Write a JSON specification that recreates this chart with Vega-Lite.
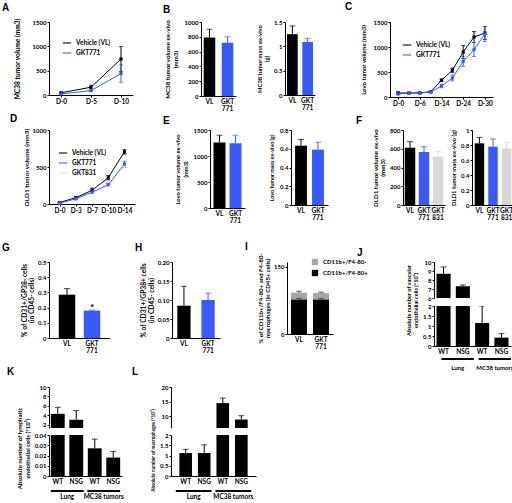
{
"$schema":"https://vega.github.io/schema/vega-lite/v6.json",
"background":"white",
"padding":{"left":2,"top":2,"right":2,"bottom":0},
"resolve":{"scale":{"color":"independent"}},
"spacing":18,
"vconcat":[
 {"resolve":{"scale":{"color":"independent"}},"spacing":1,"vconcat":[
  {"resolve":{"scale":{"color":"independent"}},"spacing":30,"hconcat":[
   {"width":84,"height":73,
    "title":{"text":"A","dx":-47,"offset":5.3},
    "data":{"values":[
     {"day":"D-0","grp":"Vehicle (VL)","v":45,"e":12},
     {"day":"D-5","grp":"Vehicle (VL)","v":160,"e":40},
     {"day":"D-10","grp":"Vehicle (VL)","v":740,"e":255},
     {"day":"D-0","grp":"GKT771","v":20,"e":6},
     {"day":"D-5","grp":"GKT771","v":90,"e":20},
     {"day":"D-10","grp":"GKT771","v":440,"e":180}]},
    "encoding":{
     "x":{"field":"day","type":"ordinal","scale":{"type":"point","domain":["D-0","D-5","D-10"],"padding":0.4},"axis":{"title":null}},
     "y":{"field":"v","type":"quantitative","scale":{"domain":[0,1500]},"axis":{"values":[0,500,1000,1500],"format":"d","title":"MC38 tumor volume (mm3)","titleFontSize":6.6,"titlePadding":12}},
     "color":{"field":"grp","type":"nominal","scale":{"domain":["Vehicle (VL)","GKT771"],"range":["#000000","#3a5af5"]},"legend":{"title":null,"orient":"none","legendX":13,"legendY":16,"symbolType":"stroke","symbolSize":70,"symbolStrokeWidth":1.5,"rowPadding":1,"padding":0,"labelOffset":4}}},
    "layer":[
     {"mark":{"type":"errorbar","ticks":true,"size":4,"thickness":1},"encoding":{"yError":{"field":"e"}}},
     {"mark":{"type":"line","strokeWidth":1}},
     {"mark":{"type":"point","shape":"square","filled":true,"size":10,"opacity":1}}]},
   {"resolve":{"scale":{"color":"independent"}},"bounds":"flush","spacing":49,"hconcat":[
    {"width":35,"height":74,
     "title":{"text":"B","dx":-38,"offset":3.8},
     "data":{"values":[{"c":"VL","v":790,"hi":902},{"c":"GKT 771","v":720,"hi":800}]},
     "encoding":{
      "x":{"field":"c","type":"nominal","scale":{"domain":["VL","GKT 771"],"paddingInner":0.36,"paddingOuter":0.15},"axis":{"title":null,"labelExpr":"split(datum.value, ' ')","labelLineHeight":7}},
      "y":{"field":"v","type":"quantitative","scale":{"domain":[0,1000]},"axis":{"values":[0,200,400,600,800,1000],"format":"d","title":["MC38 tumor volume ex-vivo","(mm3)"],"titleFontSize":6.2,"titlePadding":6}},
      "color":{"field":"c","type":"nominal","scale":{"domain":["VL","GKT 771","GKT 831"],"range":["#000000","#3a5af5","#d9d9d9"]},"legend":null}},
     "layer":[
      {"mark":"rule","encoding":{"y2":{"field":"hi"}}},
      {"mark":"bar"},
      {"mark":{"type":"tick","thickness":1,"size":6},"encoding":{"y":{"field":"hi","type":"quantitative"}}}]},
    {"width":30,"height":73,
     "data":{"values":[{"c":"VL","v":1.25,"hi":1.42},{"c":"GKT 771","v":1.09,"hi":1.165}]},
     "encoding":{
      "x":{"field":"c","type":"nominal","scale":{"domain":["VL","GKT 771"],"paddingInner":0.3,"paddingOuter":0.13},"axis":{"title":null,"labelExpr":"split(datum.value, ' ')","labelLineHeight":7}},
      "y":{"field":"v","type":"quantitative","scale":{"domain":[0,1.5]},"axis":{"values":[0,0.5,1,1.5],"format":"~g","title":["MC38 tumor mass ex-vivo","(g)"],"titleFontSize":5.8,"titlePadding":4}},
      "color":{"field":"c","type":"nominal","scale":{"domain":["VL","GKT 771","GKT 831"],"range":["#000000","#3a5af5","#d9d9d9"]},"legend":null}},
     "layer":[
      {"mark":"rule","encoding":{"y2":{"field":"hi"}}},
      {"mark":"bar"},
      {"mark":{"type":"tick","thickness":1,"size":6},"encoding":{"y":{"field":"hi","type":"quantitative"}}}]}]},
   {"width":103,"height":75,
    "title":{"text":"C","dx":-45,"offset":6.8},
    "data":{"values":[
     {"day":"D-0","grp":"Vehicle (VL)","v":80,"e":20},
     {"day":"D-3","grp":"Vehicle (VL)","v":80,"e":10},
     {"day":"D-6","grp":"Vehicle (VL)","v":82,"e":10},
     {"day":"D-10","grp":"Vehicle (VL)","v":105,"e":15},
     {"day":"D-14","grp":"Vehicle (VL)","v":335,"e":25},
     {"day":"D-20","grp":"Vehicle (VL)","v":535,"e":45},
     {"day":"D-24","grp":"Vehicle (VL)","v":900,"e":130},
     {"day":"D-27","grp":"Vehicle (VL)","v":1200,"e":110},
     {"day":"D-30","grp":"Vehicle (VL)","v":1280,"e":130},
     {"day":"D-0","grp":"GKT771","v":60,"e":15},
     {"day":"D-3","grp":"GKT771","v":80,"e":10},
     {"day":"D-6","grp":"GKT771","v":80,"e":10},
     {"day":"D-10","grp":"GKT771","v":100,"e":15},
     {"day":"D-14","grp":"GKT771","v":220,"e":35},
     {"day":"D-20","grp":"GKT771","v":380,"e":60},
     {"day":"D-24","grp":"GKT771","v":710,"e":100},
     {"day":"D-27","grp":"GKT771","v":950,"e":140},
     {"day":"D-30","grp":"GKT771","v":1260,"e":150}]},
    "encoding":{
     "x":{"field":"day","type":"ordinal","scale":{"type":"point","domain":["D-0","D-3","D-6","D-10","D-14","D-20","D-24","D-27","D-30"],"padding":0.75},"axis":{"title":null,"values":["D-0","D-6","D-14","D-24","D-30"]}},
     "y":{"field":"v","type":"quantitative","scale":{"domain":[0,1500]},"axis":{"values":[0,500,1000,1500],"format":"d","title":"Lovo tumor volume (mm3)","titleFontSize":6,"titlePadding":7}},
     "color":{"field":"grp","type":"nominal","scale":{"domain":["Vehicle (VL)","GKT771"],"range":["#000000","#3a5af5"]},"legend":{"title":null,"orient":"none","legendX":12,"legendY":18,"symbolType":"stroke","symbolSize":70,"symbolStrokeWidth":1.5,"rowPadding":1,"padding":0,"labelOffset":4}}},
    "layer":[
     {"mark":{"type":"errorbar","ticks":true,"size":4,"thickness":1},"encoding":{"yError":{"field":"e"}}},
     {"mark":{"type":"line","strokeWidth":1}},
     {"mark":{"type":"point","shape":"square","filled":true,"size":10,"opacity":1}}]}]},
  {"resolve":{"scale":{"color":"independent"}},"spacing":28,"hconcat":[
   {"width":86,"height":74,
    "title":{"text":"D","dx":-39,"offset":3.3},
    "data":{"values":[
     {"day":"D-0","grp":"GKT831","v":12,"e":4},
     {"day":"D-3","grp":"GKT831","v":66,"e":6},
     {"day":"D-7","grp":"GKT831","v":150,"e":12},
     {"day":"D-10","grp":"GKT831","v":250,"e":15},
     {"day":"D-14","grp":"GKT831","v":520,"e":35},
     {"day":"D-0","grp":"Vehicle (VL)","v":20,"e":5},
     {"day":"D-3","grp":"Vehicle (VL)","v":85,"e":8},
     {"day":"D-7","grp":"Vehicle (VL)","v":185,"e":30},
     {"day":"D-10","grp":"Vehicle (VL)","v":355,"e":30},
     {"day":"D-14","grp":"Vehicle (VL)","v":705,"e":30},
     {"day":"D-0","grp":"GKT771","v":13,"e":4},
     {"day":"D-3","grp":"GKT771","v":70,"e":6},
     {"day":"D-7","grp":"GKT771","v":160,"e":15},
     {"day":"D-10","grp":"GKT771","v":262,"e":15},
     {"day":"D-14","grp":"GKT771","v":538,"e":40}]},
    "encoding":{
     "x":{"field":"day","type":"ordinal","scale":{"type":"point","domain":["D-0","D-3","D-7","D-10","D-14"],"padding":0.65},"axis":{"title":null}},
     "y":{"field":"v","type":"quantitative","scale":{"domain":[0,1000]},"axis":{"values":[0,500,1000],"format":"d","title":"DLD1 tumor volume (mm3)","titleFontSize":6.4,"titlePadding":3}},
     "color":{"field":"grp","type":"nominal","scale":{"domain":["Vehicle (VL)","GKT771","GKT831"],"range":["#000000","#3a5af5","#e3e3e3"]},"legend":{"title":null,"orient":"none","legendX":9,"legendY":18,"symbolType":"stroke","symbolSize":70,"symbolStrokeWidth":1.5,"rowPadding":1,"padding":0,"labelOffset":4}}},
    "layer":[
     {"mark":{"type":"errorbar","ticks":true,"size":4,"thickness":1},"encoding":{"yError":{"field":"e"}}},
     {"mark":{"type":"line","strokeWidth":1}},
     {"mark":{"type":"point","shape":"square","filled":true,"size":10,"opacity":1}}]},
   {"resolve":{"scale":{"color":"independent"}},"bounds":"flush","spacing":46,"hconcat":[
    {"width":35,"height":78,
     "title":{"text":"E","dx":-47,"offset":1.3},
     "data":{"values":[{"c":"VL","v":1262,"hi":1400},{"c":"GKT 771","v":1243,"hi":1400}]},
     "encoding":{
      "x":{"field":"c","type":"nominal","scale":{"domain":["VL","GKT 771"],"paddingInner":0.25,"paddingOuter":0.22},"axis":{"title":null,"labelExpr":"split(datum.value, ' ')","labelLineHeight":7}},
      "y":{"field":"v","type":"quantitative","scale":{"domain":[0,1500]},"axis":{"values":[0,500,1000,1500],"format":"d","title":["Lovo tumor volume  ex-vivo","(mm3)"],"titleFontSize":5.8,"titlePadding":5}},
      "color":{"field":"c","type":"nominal","scale":{"domain":["VL","GKT 771","GKT 831"],"range":["#000000","#3a5af5","#d9d9d9"]},"legend":null}},
     "layer":[
      {"mark":"rule","encoding":{"y2":{"field":"hi"}}},
      {"mark":"bar"},
      {"mark":{"type":"tick","thickness":1,"size":6},"encoding":{"y":{"field":"hi","type":"quantitative"}}}]},
    {"width":37,"height":75,
     "data":{"values":[{"c":"VL","v":0.633,"hi":0.7},{"c":"GKT 771","v":0.59,"hi":0.669}]},
     "encoding":{
      "x":{"field":"c","type":"nominal","scale":{"domain":["VL","GKT 771"],"paddingInner":0.3,"paddingOuter":0.24},"axis":{"title":null,"labelExpr":"split(datum.value, ' ')","labelLineHeight":7}},
      "y":{"field":"v","type":"quantitative","scale":{"domain":[0,0.8]},"axis":{"values":[0,0.2,0.4,0.6,0.8],"format":"~g","title":"Lovo tumor mass ex-vivo (g)","titleFontSize":5.4,"titlePadding":5}},
      "color":{"field":"c","type":"nominal","scale":{"domain":["VL","GKT 771","GKT 831"],"range":["#000000","#3a5af5","#d9d9d9"]},"legend":null}},
     "layer":[
      {"mark":"rule","encoding":{"y2":{"field":"hi"}}},
      {"mark":"bar"},
      {"mark":{"type":"tick","thickness":1,"size":6},"encoding":{"y":{"field":"hi","type":"quantitative"}}}]}]},
   {"resolve":{"scale":{"color":"independent"}},"bounds":"flush","spacing":27,"hconcat":[
    {"width":42,"height":75,
     "title":{"text":"F","dx":-47,"offset":1.3},
     "data":{"values":[{"c":"VL","v":611,"hi":675},{"c":"GKT 771","v":565,"hi":622},{"c":"GKT 831","v":516,"hi":569}]},
     "encoding":{
      "x":{"field":"c","type":"nominal","scale":{"domain":["VL","GKT 771","GKT 831"],"paddingInner":0.25,"paddingOuter":0.125},"axis":{"title":null,"labelExpr":"split(datum.value, ' ')","labelLineHeight":7}},
      "y":{"field":"v","type":"quantitative","scale":{"domain":[0,800]},"axis":{"values":[0,200,400,600,800],"format":"d","title":["DLD1 tumor volume ex-vivo","(mm3)"],"titleFontSize":6.2,"titlePadding":4}},
      "color":{"field":"c","type":"nominal","scale":{"domain":["VL","GKT 771","GKT 831"],"range":["#000000","#3a5af5","#d9d9d9"]},"legend":null}},
     "layer":[
      {"mark":"rule","encoding":{"y2":{"field":"hi"}}},
      {"mark":"bar"},
      {"mark":{"type":"tick","thickness":1,"size":6},"encoding":{"y":{"field":"hi","type":"quantitative"}}}]},
    {"width":42,"height":75,
     "data":{"values":[{"c":"VL","v":0.822,"hi":0.902},{"c":"GKT 771","v":0.778,"hi":0.88},{"c":"GKT 831","v":0.756,"hi":0.836}]},
     "encoding":{
      "x":{"field":"c","type":"nominal","scale":{"domain":["VL","GKT 771","GKT 831"],"paddingInner":0.3,"paddingOuter":0.2},"axis":{"title":null,"labelExpr":"split(datum.value, ' ')","labelLineHeight":7}},
      "y":{"field":"v","type":"quantitative","scale":{"domain":[0,1]},"axis":{"values":[0,0.2,0.4,0.6,0.8,1],"format":"~g","title":"DLD1 tumor mass ex-vivo (g)","titleFontSize":5.9,"titlePadding":4}},
      "color":{"field":"c","type":"nominal","scale":{"domain":["VL","GKT 771","GKT 831"],"range":["#000000","#3a5af5","#d9d9d9"]},"legend":null}},
     "layer":[
      {"mark":"rule","encoding":{"y2":{"field":"hi"}}},
      {"mark":"bar"},
      {"mark":{"type":"tick","thickness":1,"size":6},"encoding":{"y":{"field":"hi","type":"quantitative"}}}]}]}]}]},
 {"resolve":{"scale":{"color":"independent"}},"spacing":-3,"vconcat":[
  {"resolve":{"scale":{"color":"independent"}},"spacing":-11,"hconcat":[
   {"resolve":{"scale":{"color":"independent"}},"spacing":25,"hconcat":[
    {"width":61,"height":76,
     "title":{"text":"G","dx":-47,"offset":6.3},
     "data":{"values":[{"c":"VL","v":0.285,"hi":0.325,"sig":""},{"c":"GKT 771","v":0.18,"hi":0.184,"sig":"*"}]},
     "encoding":{
      "x":{"field":"c","type":"nominal","scale":{"domain":["VL","GKT 771"],"paddingInner":0.34,"paddingOuter":0.39},"axis":{"title":null,"labelExpr":"split(datum.value, ' ')","labelLineHeight":7}},
      "y":{"field":"v","type":"quantitative","scale":{"domain":[0,0.5]},"axis":{"values":[0,0.1,0.2,0.3,0.4,0.5],"format":"~g","title":["% of CD31+/GP38- cells","(in CD45- cells)"],"titleFontSize":6.7,"titlePadding":3}},
      "color":{"field":"c","type":"nominal","scale":{"domain":["VL","GKT 771","GKT 831"],"range":["#000000","#3a5af5","#d9d9d9"]},"legend":null}},
     "layer":[
      {"mark":"rule","encoding":{"y2":{"field":"hi"}}},
      {"mark":"bar"},
      {"mark":{"type":"tick","thickness":1,"size":6},"encoding":{"y":{"field":"hi","type":"quantitative"}}},
      {"mark":{"type":"text","fontSize":10,"fontWeight":"bold","baseline":"middle","dy":-2,"color":"#000"},"encoding":{"y":{"field":"hi","type":"quantitative"},"text":{"field":"sig"},"color":{"value":"#000"}}}]},
    {"width":48,"height":76,
     "title":{"text":"H","dx":-37,"offset":6.3},
     "data":{"values":[{"c":"VL","v":0.085,"hi":0.136},{"c":"GKT 771","v":0.1,"hi":0.118}]},
     "encoding":{
      "x":{"field":"c","type":"nominal","scale":{"domain":["VL","GKT 771"],"paddingInner":0.45,"paddingOuter":0.22},"axis":{"title":null,"labelExpr":"split(datum.value, ' ')","labelLineHeight":7}},
      "y":{"field":"v","type":"quantitative","scale":{"domain":[0,0.2]},"axis":{"values":[0,0.05,0.1,0.15,0.2],"labelExpr":"datum.value == 0 ? '0' : format(datum.value, '.2f')","title":["% of CD31+/GP38+ cells","(in CD45- cells)"],"titleFontSize":6.7,"titlePadding":3}},
      "color":{"field":"c","type":"nominal","scale":{"domain":["VL","GKT 771","GKT 831"],"range":["#000000","#3a5af5","#d9d9d9"]},"legend":null}},
     "layer":[
      {"mark":"rule","encoding":{"y2":{"field":"hi"}}},
      {"mark":"bar"},
      {"mark":{"type":"tick","thickness":1,"size":6},"encoding":{"y":{"field":"hi","type":"quantitative"}}}]},
    {"width":46,"height":72,
     "title":{"text":"I","dx":-42,"offset":0.5},
     "encoding":{
      "x":{"field":"c","type":"nominal","scale":{"domain":["VL","GKT 771"],"paddingInner":0.27,"paddingOuter":0.18},"axis":{"title":null,"labelExpr":"split(datum.value, ' ')","labelLineHeight":7}}},
     "layer":[
      {"data":{"values":[
        {"c":"VL","pop":"CD11b+/F4-80+","v":77},
        {"c":"VL","pop":"CD11b+/F4-80-","v":15},
        {"c":"GKT 771","pop":"CD11b+/F4-80+","v":77},
        {"c":"GKT 771","pop":"CD11b+/F4-80-","v":14}]},
       "mark":"bar",
       "encoding":{
        "y":{"field":"v","type":"quantitative","stack":"zero","scale":{"domain":[0,150]},"axis":{"values":[0,50,100,150],"format":"d","title":["% of CD11b+/F4-80+ and F4-80-","macrophages (in CD45+ cells)"],"titleFontSize":6.1,"titlePadding":3}},
        "color":{"field":"pop","type":"nominal","scale":{"domain":["CD11b+/F4-80-","CD11b+/F4-80+"],"range":["#a6a6a6","#000000"]},"legend":{"title":null,"orient":"none","legendX":24,"legendY":-4,"symbolType":"square","symbolSize":40,"rowPadding":3,"padding":0,"labelFontSize":6}},
        "order":{"field":"pop","sort":"ascending"}}},
      {"data":{"values":[{"c":"VL","lo":92,"hi":95},{"c":"GKT 771","lo":91,"hi":93},{"c":"VL","lo":77,"hi":79},{"c":"GKT 771","lo":77,"hi":78.5}]},
       "mark":{"type":"rule","color":"#333333"},"encoding":{"y":{"field":"lo","type":"quantitative"},"y2":{"field":"hi"}}},
      {"data":{"values":[{"c":"VL","lo":92,"hi":95},{"c":"GKT 771","lo":91,"hi":93},{"c":"VL","lo":77,"hi":79},{"c":"GKT 771","lo":77,"hi":78.5}]},
       "mark":{"type":"tick","color":"#333333","thickness":1,"size":6},"encoding":{"y":{"field":"hi","type":"quantitative"}}}]}]},
   {"bounds":"flush","spacing":8,"vconcat":[
    {"width":77,"height":36,
     "title":{"text":"J","dx":-77,"offset":1},
     "data":{"values":[{"c":"WT|Lung","v":8.7,"hi":9.45},{"c":"NSG|Lung","v":7.3,"hi":7.45},{"c":"WT|MC38 tumors","v":1.15,"hi":2.0},{"c":"NSG|MC38 tumors","v":0.42,"hi":0.62}]},
     "encoding":{
      "x":{"field":"c","type":"nominal","scale":{"domain":["WT|Lung","NSG|Lung","WT|MC38 tumors","NSG|MC38 tumors"],"paddingInner":0.27,"paddingOuter":0.13},"axis":null},
      "y":{"field":"v","type":"quantitative","scale":{"domain":[6,10]},"axis":{"values":[6,7,8,9,10],"title":null}}},
     "layer":[
      {"mark":{"type":"rule","clip":true,"color":"#000000"},"encoding":{"y2":{"field":"hi"}}},
      {"mark":{"type":"bar","clip":true,"color":"#000000"}},
      {"mark":{"type":"tick","clip":true,"color":"#000000","thickness":1,"size":6},"encoding":{"y":{"field":"hi","type":"quantitative"}}}]},
    {"width":77,"height":40,
     "data":{"values":[{"c":"WT|Lung","v":8.7,"hi":9.45},{"c":"NSG|Lung","v":7.3,"hi":7.45},{"c":"WT|MC38 tumors","v":1.15,"hi":2.0},{"c":"NSG|MC38 tumors","v":0.42,"hi":0.62}]},
     "encoding":{
      "x":{"field":"c","type":"nominal","scale":{"domain":["WT|Lung","NSG|Lung","WT|MC38 tumors","NSG|MC38 tumors"],"paddingInner":0.27,"paddingOuter":0.13},"axis":{"title":null,"labelExpr":"split(datum.value, '|')[0]"}},
      "y":{"field":"v","type":"quantitative","scale":{"domain":[0,2]},"axis":{"values":[0,0.5,1,1.5,2],"format":"~g","title":["Absolute number of vascular","endothelial cells (*10⁵)"],"titleFontSize":5.6,"titlePadding":4,"titleY":-6}}},
     "layer":[
      {"mark":{"type":"rule","clip":true,"color":"#000000"},"encoding":{"y2":{"field":"hi"}}},
      {"mark":{"type":"bar","clip":true,"color":"#000000"}},
      {"mark":{"type":"tick","clip":true,"color":"#000000","thickness":1,"size":6},"encoding":{"y":{"field":"hi","type":"quantitative"}}},
      {"data":{"values":[{"a":"WT|MC38 tumors","b":"NSG|MC38 tumors"}]},"mark":{"type":"rule","color":"#000000"},"encoding":{"x":{"field":"a","type":"nominal"},"x2":{"field":"b"},"y":{"datum":2.2,"type":"quantitative"}}},
      {"data":{"values":[{"b":"NSG|MC38 tumors","sig":"*"}]},"mark":{"type":"text","fontSize":10,"fontWeight":"bold","baseline":"middle","dx":-9,"color":"#000000"},"encoding":{"x":{"field":"b","type":"nominal"},"y":{"datum":2.45,"type":"quantitative"},"text":{"field":"sig"}}}]},
    {"width":77,"height":9,
     "data":{"values":[{"g":"Lung"},{"g":"MC38 tumors"}]},
     "mark":{"type":"bar","color":"#000000"},
     "encoding":{
      "x":{"field":"g","type":"nominal","scale":{"domain":["Lung","MC38 tumors"],"paddingInner":0.13,"paddingOuter":0.1,"align":1},"axis":{"title":null,"domain":false,"ticks":false,"labelPadding":1,"labelFontSize":6}},
      "y":{"datum":0.56,"type":"quantitative","scale":{"domain":[0,1]},"axis":null},
      "y2":{"datum":0.33}}}]}]},
  {"resolve":{"scale":{"color":"independent"}},"spacing":8,"hconcat":[
   {"bounds":"flush","spacing":7,"vconcat":[
    {"width":73,"height":41,
     "title":{"text":"K","dx":-42,"offset":6.8},
     "data":{"values":[{"c":"WT|Lung","v":4.3,"hi":5.7},{"c":"NSG|Lung","v":3.05,"hi":5.0},{"c":"WT|MC38 tumors","v":0.027,"hi":0.036},{"c":"NSG|MC38 tumors","v":0.018,"hi":0.024}]},
     "encoding":{
      "x":{"field":"c","type":"nominal","scale":{"domain":["WT|Lung","NSG|Lung","WT|MC38 tumors","NSG|MC38 tumors"],"paddingInner":0.25,"paddingOuter":0.1},"axis":null},
      "y":{"field":"v","type":"quantitative","scale":{"domain":[1.3,10]},"axis":{"values":[2,4,6,8,10],"title":null}}},
     "layer":[
      {"mark":{"type":"rule","clip":true,"color":"#000000"},"encoding":{"y2":{"field":"hi"}}},
      {"mark":{"type":"bar","clip":true,"color":"#000000"}},
      {"mark":{"type":"tick","clip":true,"color":"#000000","thickness":1,"size":6},"encoding":{"y":{"field":"hi","type":"quantitative"}}}]},
    {"width":73,"height":41,
     "data":{"values":[{"c":"WT|Lung","v":4.3,"hi":5.7},{"c":"NSG|Lung","v":3.05,"hi":5.0},{"c":"WT|MC38 tumors","v":0.027,"hi":0.036},{"c":"NSG|MC38 tumors","v":0.018,"hi":0.024}]},
     "encoding":{
      "x":{"field":"c","type":"nominal","scale":{"domain":["WT|Lung","NSG|Lung","WT|MC38 tumors","NSG|MC38 tumors"],"paddingInner":0.25,"paddingOuter":0.1},"axis":{"title":null,"labelExpr":"split(datum.value, '|')[0]"}},
      "y":{"field":"v","type":"quantitative","scale":{"domain":[0,0.04]},"axis":{"values":[0,0.01,0.02,0.03,0.04],"format":"~g","title":["Absolute number of lymphatic","endothelial cells (*10⁵)"],"titleFontSize":6.1,"titlePadding":4,"titleY":13}}},
     "layer":[
      {"mark":{"type":"rule","clip":true,"color":"#000000"},"encoding":{"y2":{"field":"hi"}}},
      {"mark":{"type":"bar","clip":true,"color":"#000000"}},
      {"mark":{"type":"tick","clip":true,"color":"#000000","thickness":1,"size":6},"encoding":{"y":{"field":"hi","type":"quantitative"}}}]},
    {"width":73,"height":9,
     "data":{"values":[{"g":"Lung"},{"g":"MC38 tumors"}]},
     "mark":{"type":"bar","color":"#000000"},
     "encoding":{
      "x":{"field":"g","type":"nominal","scale":{"domain":["Lung","MC38 tumors"],"paddingInner":0.1,"paddingOuter":0.05},"axis":{"title":null,"domain":false,"ticks":false,"labelPadding":1,"labelFontSize":6.5}},
      "y":{"datum":0.22,"type":"quantitative","scale":{"domain":[0,1]},"axis":null},
      "y2":{"datum":0}}}]},
   {"bounds":"flush","spacing":7,"vconcat":[
    {"width":85,"height":41,
     "title":{"text":"L","dx":-39,"offset":6.8},
     "data":{"values":[{"c":"WT|Lung","v":1.12,"hi":1.3},{"c":"NSG|Lung","v":1.12,"hi":1.52},{"c":"WT|MC38 tumors","v":14.5,"hi":16.2},{"c":"NSG|MC38 tumors","v":8.9,"hi":10.2}]},
     "encoding":{
      "x":{"field":"c","type":"nominal","scale":{"domain":["WT|Lung","NSG|Lung","WT|MC38 tumors","NSG|MC38 tumors"],"paddingInner":0.32,"paddingOuter":0.45},"axis":null},
      "y":{"field":"v","type":"quantitative","scale":{"domain":[6,20]},"axis":{"values":[10,15,20],"title":null}}},
     "layer":[
      {"mark":{"type":"rule","clip":true,"color":"#000000"},"encoding":{"y2":{"field":"hi"}}},
      {"mark":{"type":"bar","clip":true,"color":"#000000"}},
      {"mark":{"type":"tick","clip":true,"color":"#000000","thickness":1,"size":6},"encoding":{"y":{"field":"hi","type":"quantitative"}}}]},
    {"width":85,"height":41,
     "data":{"values":[{"c":"WT|Lung","v":1.12,"hi":1.3},{"c":"NSG|Lung","v":1.12,"hi":1.52},{"c":"WT|MC38 tumors","v":14.5,"hi":16.2},{"c":"NSG|MC38 tumors","v":8.9,"hi":10.2}]},
     "encoding":{
      "x":{"field":"c","type":"nominal","scale":{"domain":["WT|Lung","NSG|Lung","WT|MC38 tumors","NSG|MC38 tumors"],"paddingInner":0.32,"paddingOuter":0.45},"axis":{"title":null,"labelExpr":"split(datum.value, '|')[0]"}},
      "y":{"field":"v","type":"quantitative","scale":{"domain":[0,2]},"axis":{"values":[0,0.5,1,1.5,2],"format":"~g","title":"Absolute number of macrophages (*10⁵)","titleFontSize":4.7,"titlePadding":4,"titleY":15}}},
     "layer":[
      {"mark":{"type":"rule","clip":true,"color":"#000000"},"encoding":{"y2":{"field":"hi"}}},
      {"mark":{"type":"bar","clip":true,"color":"#000000"}},
      {"mark":{"type":"tick","clip":true,"color":"#000000","thickness":1,"size":6},"encoding":{"y":{"field":"hi","type":"quantitative"}}}]},
    {"width":85,"height":9,
     "data":{"values":[{"g":"Lung"},{"g":"MC38 tumors"}]},
     "mark":{"type":"bar","color":"#000000"},
     "encoding":{
      "x":{"field":"g","type":"nominal","scale":{"domain":["Lung","MC38 tumors"],"paddingInner":0.1,"paddingOuter":0.12},"axis":{"title":null,"domain":false,"ticks":false,"labelPadding":1,"labelFontSize":6.5}},
      "y":{"datum":0.22,"type":"quantitative","scale":{"domain":[0,1]},"axis":null},
      "y2":{"datum":0}}}]}]}]}],
"config":{
 "font":"Lato",
 "view":{"stroke":null},
 "axis":{"labelFont":"Lato","labelFontSize":6,"labelFontWeight":"bold","labelColor":"#000000","titleFont":"Lato","titleFontSize":6.5,"titleFontWeight":"bold","titleColor":"#000000","titleLineHeight":7.5,"domainColor":"#000000","domainWidth":1,"tickColor":"#000000","tickSize":2,"tickWidth":1,"labelPadding":1,"titlePadding":3,"grid":false},
 "axisX":{"labelAngle":0,"labelFontSize":6.5},
 "axisBand":{"ticks":false,"labelPadding":2},
 "title":{"font":"Liberation Sans","fontSize":10,"fontWeight":"bold","anchor":"start","frame":"group","color":"#000000"},
 "legend":{"labelFont":"Lato","labelFontSize":6.5,"labelFontWeight":"bold","labelColor":"#000000"},
 "tick":{"thickness":1},
 "rule":{"strokeWidth":1},
 "text":{"font":"Lato"}
}
}
